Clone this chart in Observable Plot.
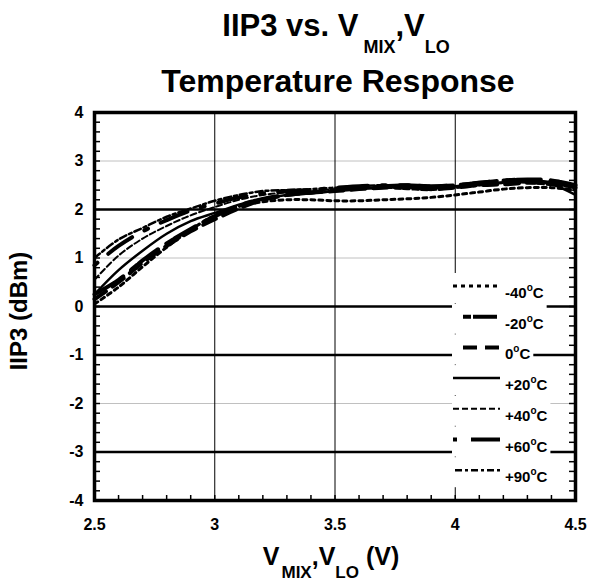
<!DOCTYPE html>
<html>
<head>
<meta charset="utf-8">
<script src="https://cdn.jsdelivr.net/npm/d3@7"></script>
<script src="https://cdn.jsdelivr.net/npm/@observablehq/plot@0.6"></script>
<style>
  html, body { margin: 0; padding: 0; background: #fff; }
  #chart svg { display: block; }
</style>
</head>
<body>
<div id="chart"></div>
<script>
// ---- data ----
const voltages = [2.5, 2.6, 2.7, 2.8, 2.9, 3.0, 3.1, 3.2, 3.3, 3.4, 3.5, 3.6, 3.7, 3.8, 3.9, 4.0, 4.1, 4.2, 4.3, 4.4, 4.5];
const temps = ["-40", "-20", "0", "+20", "+40", "+60", "+90"];
const iip3_m40 = [0.05, 0.40, 0.82, 1.22, 1.58, 1.88, 2.06, 2.16, 2.20, 2.20, 2.18, 2.18, 2.20, 2.22, 2.25, 2.30, 2.36, 2.42, 2.45, 2.45, 2.40];
const iip3_m20 = [0.25, 0.55, 0.95, 1.30, 1.60, 1.86, 2.08, 2.22, 2.30, 2.35, 2.40, 2.45, 2.48, 2.50, 2.48, 2.50, 2.55, 2.60, 2.62, 2.60, 2.50];
const iip3_0   = [0.15, 0.50, 0.90, 1.25, 1.55, 1.80, 2.02, 2.20, 2.30, 2.35, 2.38, 2.42, 2.45, 2.45, 2.42, 2.45, 2.50, 2.52, 2.55, 2.55, 2.45];
const iip3_p20 = [0.25, 0.75, 1.15, 1.50, 1.76, 1.93, 2.10, 2.22, 2.30, 2.33, 2.38, 2.42, 2.45, 2.45, 2.45, 2.48, 2.52, 2.56, 2.58, 2.52, 2.30];
const iip3_p40 = [0.55, 1.05, 1.40, 1.66, 1.88, 2.05, 2.20, 2.30, 2.35, 2.38, 2.42, 2.45, 2.45, 2.42, 2.40, 2.45, 2.50, 2.55, 2.55, 2.50, 2.45];
const iip3_p60 = [0.85, 1.25, 1.55, 1.78, 1.98, 2.12, 2.25, 2.33, 2.38, 2.40, 2.45, 2.48, 2.50, 2.50, 2.48, 2.50, 2.55, 2.60, 2.60, 2.55, 2.50];
const iip3_p90 = [1.00, 1.38, 1.62, 1.85, 2.02, 2.18, 2.30, 2.38, 2.40, 2.42, 2.45, 2.48, 2.50, 2.48, 2.45, 2.45, 2.50, 2.55, 2.58, 2.55, 2.45];
const xTicks = [2.5, 3, 3.5, 4, 4.5];
const yTicks = [-4, -3, -2, -1, 0, 1, 2, 3, 4];
const gridBlackY = [2, 0, -1, -3];
const gridGrayY = [3, 1, -2];
const gridX = [3, 3.5, 4];
const minorY = d3.range(-40, 41, 2).map(d => d / 10);
const minorX = d3.range(25, 46, 1).map(d => d / 10);

// ---- styles ----
const seriesValues = [iip3_m40, iip3_m20, iip3_0, iip3_p20, iip3_p40, iip3_p60, iip3_p90];
const styles = [
  {w: 3,   dash: "4,4",         off: 0,  x1: 453},
  {w: 4,   dash: "8,2,24,10",   off: 34, x1: 453},
  {w: 4,   dash: "14,8",        off: 0,  x1: 463},
  {w: 2.5, dash: null,          off: 0,  x1: 453},
  {w: 2,   dash: "6,3",         off: 0,  x1: 453},
  {w: 4,   dash: "4,14,29,14",  off: 0,  x1: 453},
  {w: 2.5, dash: "7,3,3,3",     off: 0,  x1: 455}
];

const W = 591, H = 582;
const mL = 94, mR = 16, mT = 112, mB = 82;
const pw = W - mL - mR, ph = H - mT - mB;
const FONT = "'Liberation Sans', Arial, Helvetica, sans-serif";

const lineMarks = seriesValues.map((vals, k) =>
  Plot.line(voltages.map((v, i) => ({x: v, y: vals[i]})), {
    x: "x", y: "y", stroke: "black", strokeWidth: styles[k].w,
    strokeDasharray: styles[k].dash || undefined, curve: "catmull-rom"
  })
);

const plot = Plot.plot({
  width: W, height: H,
  marginLeft: mL, marginRight: mR, marginTop: mT, marginBottom: mB,
  style: {fontFamily: FONT, fontWeight: "bold", fontSize: "16px", background: "white"},
  x: {domain: [2.5, 4.5]},
  y: {domain: [-4, 4]},
  marks: [
    Plot.ruleY(gridGrayY, {stroke: "#c0c0c0", strokeWidth: 1}),
    Plot.ruleY(gridBlackY, {stroke: "black", strokeWidth: 2.5}),
    Plot.ruleX(gridX, {stroke: "black", strokeWidth: 1}),
    Plot.tickY(minorY, {y: d => d, stroke: "black", strokeWidth: 1.5, insetRight: pw - 6}),
    Plot.tickY(minorY, {y: d => d, stroke: "black", strokeWidth: 1.5, insetLeft: pw - 6}),
    Plot.tickX(minorX, {x: d => d, stroke: "black", strokeWidth: 1.5, insetTop: ph - 5}),
    ...lineMarks,
    Plot.frame({stroke: "black", strokeWidth: 3.5}),
    Plot.axisX(xTicks, {tickSize: 0, tickPadding: 18, tickFormat: d => String(d), fontSize: 16, fontWeight: "bold", label: null}),
    Plot.axisY(yTicks, {tickSize: 0, tickPadding: 11, tickFormat: d => String(d), fontSize: 16, fontWeight: "bold", label: null})
  ]
});

document.getElementById("chart").appendChild(plot);
const svg = d3.select(plot);

// ---- title ----
const t1 = svg.append("text").attr("x", 336).attr("y", 36).attr("text-anchor", "middle")
  .attr("font-family", FONT).attr("font-weight", "bold").attr("font-size", 31).attr("fill", "black");
t1.append("tspan").text("IIP3 vs. V");
t1.append("tspan").attr("dx", 5).attr("dy", 17).attr("font-size", 18).text("MIX");
t1.append("tspan").attr("dy", -17).text(",V");
t1.append("tspan").attr("dy", 17).attr("font-size", 18).text("LO");

svg.append("text").attr("x", 338).attr("y", 92).attr("text-anchor", "middle")
  .attr("font-family", FONT).attr("font-weight", "bold").attr("font-size", 32).attr("fill", "black")
  .text("Temperature Response");

// ---- y label ----
svg.append("text").attr("transform", "translate(27,311) rotate(-90)").attr("text-anchor", "middle")
  .attr("font-family", FONT).attr("font-weight", "bold").attr("font-size", 24).attr("fill", "black")
  .text("IIP3 (dBm)");

// ---- x label ----
const xl = svg.append("text").attr("x", 331).attr("y", 565).attr("text-anchor", "middle")
  .attr("font-family", FONT).attr("font-weight", "bold").attr("font-size", 25).attr("fill", "black");
xl.append("tspan").text("V");
xl.append("tspan").attr("dx", 2).attr("dy", 13).attr("font-size", 17).text("MIX");
xl.append("tspan").attr("dy", -13).text(",V");
xl.append("tspan").attr("dy", 13).attr("font-size", 17).text("LO");
xl.append("tspan").attr("dy", -13).text(" (V)");

// ---- legend ----
const lg = svg.append("g").attr("text-anchor", "start");
temps.forEach((t, i) => {
  const ly = 286 + 30.7 * i;
  const st = styles[i];
  const rect = lg.append("rect").attr("x", 452).attr("y", ly - 13).attr("height", 30).attr("fill", "white");
  lg.append("line").attr("x1", st.x1).attr("x2", 500).attr("y1", ly).attr("y2", ly)
    .attr("stroke", "black").attr("stroke-width", st.w)
    .attr("stroke-dasharray", st.dash).attr("stroke-dashoffset", st.off);
  const tx = lg.append("text").attr("x", 505).attr("y", ly + 12).attr("text-anchor", "start")
    .attr("font-family", FONT).attr("font-weight", "bold").attr("font-size", 15).attr("fill", "black");
  tx.append("tspan").text(t);
  tx.append("tspan").attr("dy", -7).attr("font-size", 10).text("o");
  tx.append("tspan").attr("dy", 7).text("C");
  let len = 40;
  try { len = tx.node().getComputedTextLength(); } catch (e) {}
  rect.attr("width", 505 + len + 3 - 452);
});
</script>
</body>
</html>
